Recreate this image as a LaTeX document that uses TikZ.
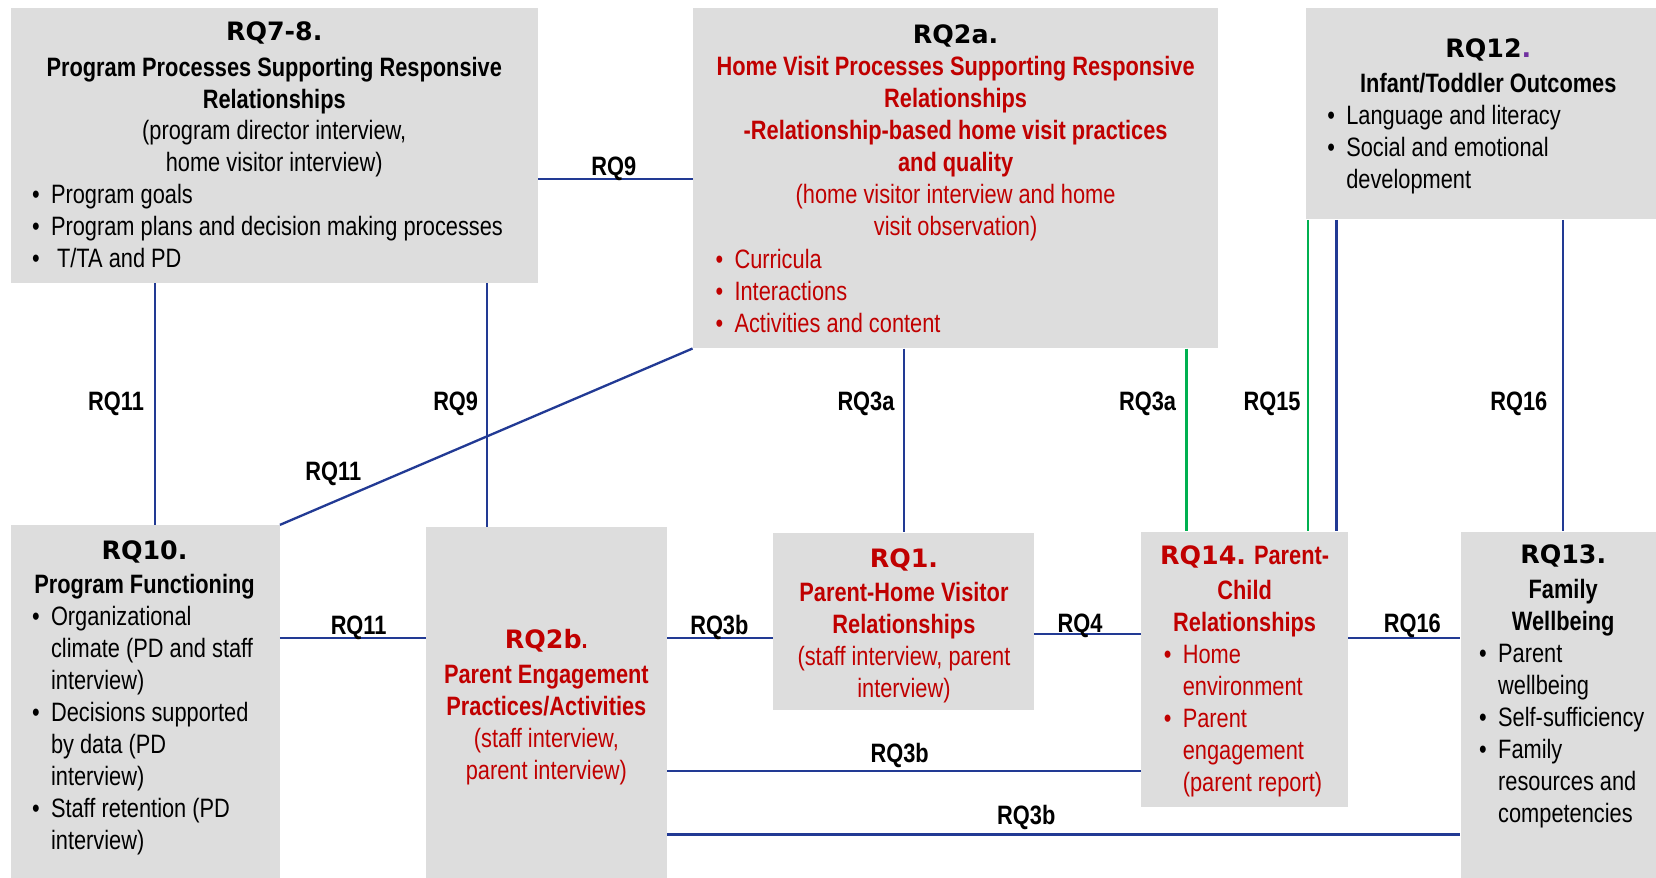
\documentclass[tikz,border=0pt]{standalone}
\usepackage{fontspec}
\setmainfont{Liberation Sans}[FakeStretch=0.82]
\newfontfamily\dvfont{DejaVu Sans}
\usetikzlibrary{fit}
\definecolor{boxgray}{HTML}{DDDDDD}
\definecolor{linkblue}{HTML}{223A94}
\definecolor{linkgreen}{HTML}{00B050}
\definecolor{rqred}{HTML}{C00000}
\definecolor{rqpurple}{HTML}{7030A0}
\newcommand\bl{\makebox[9pt][l]{\textbullet}}
\newcommand\hg{\hspace*{9pt}}
\newcommand\rqh[1]{{\dvfont\bfseries\fontsize{12}{15.15}\selectfont #1}}
\newcommand\rb[1]{\textcolor{rqred}{\textbf{#1}}}
\newcommand\rr[1]{\textcolor{rqred}{#1}}
\tikzset{
  box/.style={fill=boxgray, draw=none, inner sep=0pt},
  conn/.style={draw=linkblue, line width=1.1pt},
  gconn/.style={draw=linkgreen, line width=1.1pt},
  ctxt/.style={inner sep=0pt, font=\fontsize{12.6}{15.15}\selectfont, align=center, anchor=base},
  ltxt/.style={inner sep=0pt, font=\fontsize{12.6}{15.15}\selectfont, align=left, anchor=base west},
  lbl/.style={inner sep=0pt, font=\fontsize{12.6}{15.15}\selectfont\bfseries, anchor=base}
}
\begin{document}
\begin{tikzpicture}[x=0.5pt,y=-0.5pt]
\useasboundingbox (0,0) rectangle (1570,832);
% boxes
\node[box, fit={(10,8)(510,268)}] (rq78) {};
\node[box, fit={(657,8)(1155,330)}] (rq2a) {};
\node[box, fit={(1238,8)(1570,208)}] (rq12) {};
\node[box, fit={(10,498)(265,832)}] (rq10) {};
\node[box, fit={(404,500)(632,832)}] (rq2b) {};
\node[box, fit={(733,505)(980,673)}] (rq1) {};
\node[box, fit={(1082,504)(1278,765)}] (rq14) {};
\node[box, fit={(1385,504)(1570,832)}] (rq13) {};
% connectors
\draw[conn] (rq78.east |- 0,170) -- (rq2a.west |- 0,170);
\draw[conn] (rq78.south -| 147,0) -- (rq10.north -| 147,0);
\draw[conn] (rq78.south -| 462,0) -- (rq2b.north -| 462,0);
\draw[conn] (rq2a.south west) -- (rq10.north east);
\draw[conn] (rq2a.south -| 857,0) -- (rq1.north -| 857,0);
\draw[gconn] (rq2a.south -| 1125,0) -- (rq14.north -| 1125,0);
\draw[gconn] (rq12.south -| 1240,0) -- (rq14.north -| 1240,0);
\draw[conn] (rq12.south -| 1267,0) -- (rq14.north -| 1267,0);
\draw[conn] (rq12.south -| 1482,0) -- (rq13.north -| 1482,0);
\draw[conn] (rq10.east |- 0,605) -- (rq2b.west |- 0,605);
\draw[conn] (rq2b.east |- 0,605) -- (rq1.west |- 0,605);
\draw[conn] (rq1.east |- 0,601) -- (rq14.west |- 0,601);
\draw[conn] (rq14.east |- 0,605) -- (rq13.west |- 0,605);
\draw[conn] (rq2b.east |- 0,731) -- (rq14.west |- 0,731);
\draw[conn] (rq2b.east |- 0,791) -- (rq13.west |- 0,791);
% connector labels
\node[lbl] (l1) at (582,166) {RQ9};
\node[lbl] (l2) at (110,389) {RQ11};
\node[lbl] (l3) at (432,389) {RQ9};
\node[lbl] (l4) at (316,456) {RQ11};
\node[lbl] (l5) at (821,389) {RQ3a};
\node[lbl] (l6) at (1088,389) {RQ3a};
\node[lbl] (l7) at (1206,389) {RQ15};
\node[lbl] (l8) at (1440,389) {RQ16};
\node[lbl] (l9) at (340,602) {RQ11};
\node[lbl] (l10) at (682,602) {RQ3b};
\node[lbl] (l11) at (1024,600) {RQ4};
\node[lbl] (l12) at (1339,600) {RQ16};
\node[lbl] (l13) at (853,723) {RQ3b};
\node[lbl] (l14) at (973,782) {RQ3b};
% RQ7-8 text (positioned by the baseline of the last line)
\node[ctxt] (rq78t) at (260,163) {\rqh{RQ7-8.}\\[1.5pt]\textbf{Program Processes Supporting Responsive}\\\textbf{Relationships}\\(program director interview,\\home visitor interview)};
\node[ltxt] (rq78l) at (30,253.6) {\bl Program goals\\\bl Program plans and decision making processes\\\bl\ T/TA and PD};
% RQ2a text
\node[ctxt] (rq2at) at (906,223) {\rqh{RQ2a.}\\\rb{Home Visit Processes Supporting Responsive}\\\rb{Relationships}\\\rb{-Relationship-based home visit practices}\\\rb{and quality}\\\rr{(home visitor interview and home}\\\rr{visit observation)}};
\node[ltxt, text=rqred] (rq2al) at (678,315) {\bl Curricula\\\bl Interactions\\\bl Activities and content};
% RQ12 text
\node[ctxt] (rq12t) at (1411,88) {\rqh{RQ12\textcolor{rqpurple}{.}}\\[1.5pt]\textbf{Infant/Toddler Outcomes}};
\node[ltxt] (rq12l) at (1258,178.6) {\bl Language and literacy\\\bl Social and emotional\\\hg development};
% RQ10 text
\node[ctxt] (rq10t) at (137,563) {\rqh{RQ10.}\\[1pt]\textbf{Program Functioning}};
\node[ltxt] (rq10l) at (30,805) {\bl Organizational\\\hg climate (PD and staff\\\hg interview)\\\bl Decisions supported\\\hg by data (PD\\\hg interview)\\\bl Staff retention (PD\\\hg interview)};
% RQ2b text
\node[ctxt] (rq2bt) at (518,739) {\rqh{\textcolor{rqred}{RQ2b}}\textcolor{rqred}{\textbf{.}}\\[1.5pt]\rb{Parent Engagement}\\\rb{Practices/Activities}\\\rr{(staff interview,}\\\rr{parent interview)}};
% RQ1 text
\node[ctxt] (rq1t) at (857,661) {\rqh{\textcolor{rqred}{RQ1.}}\\[1pt]\rb{Parent-Home Visitor}\\\rb{Relationships}\\\rr{(staff interview, parent}\\\rr{interview)}};
% RQ14 text
\node[ctxt] (rq14t) at (1180,599) {\rqh{\textcolor{rqred}{RQ14.}} \rb{Parent-}\\[1.5pt]\rb{Child}\\\rb{Relationships}};
\node[ltxt, text=rqred] (rq14l) at (1103,750) {\bl Home\\\hg environment\\\bl Parent\\\hg engagement\\\hg (parent report)};
% RQ13 text
\node[ctxt] (rq13t) at (1482,598) {\rqh{RQ13.}\\[1.5pt]\textbf{Family}\\\textbf{Wellbeing}};
\node[ltxt] (rq13l) at (1402,779.5) {\bl Parent\\\hg wellbeing\\\bl Self-sufficiency\\\bl Family\\\hg resources and\\\hg competencies};
\end{tikzpicture}
\end{document}
